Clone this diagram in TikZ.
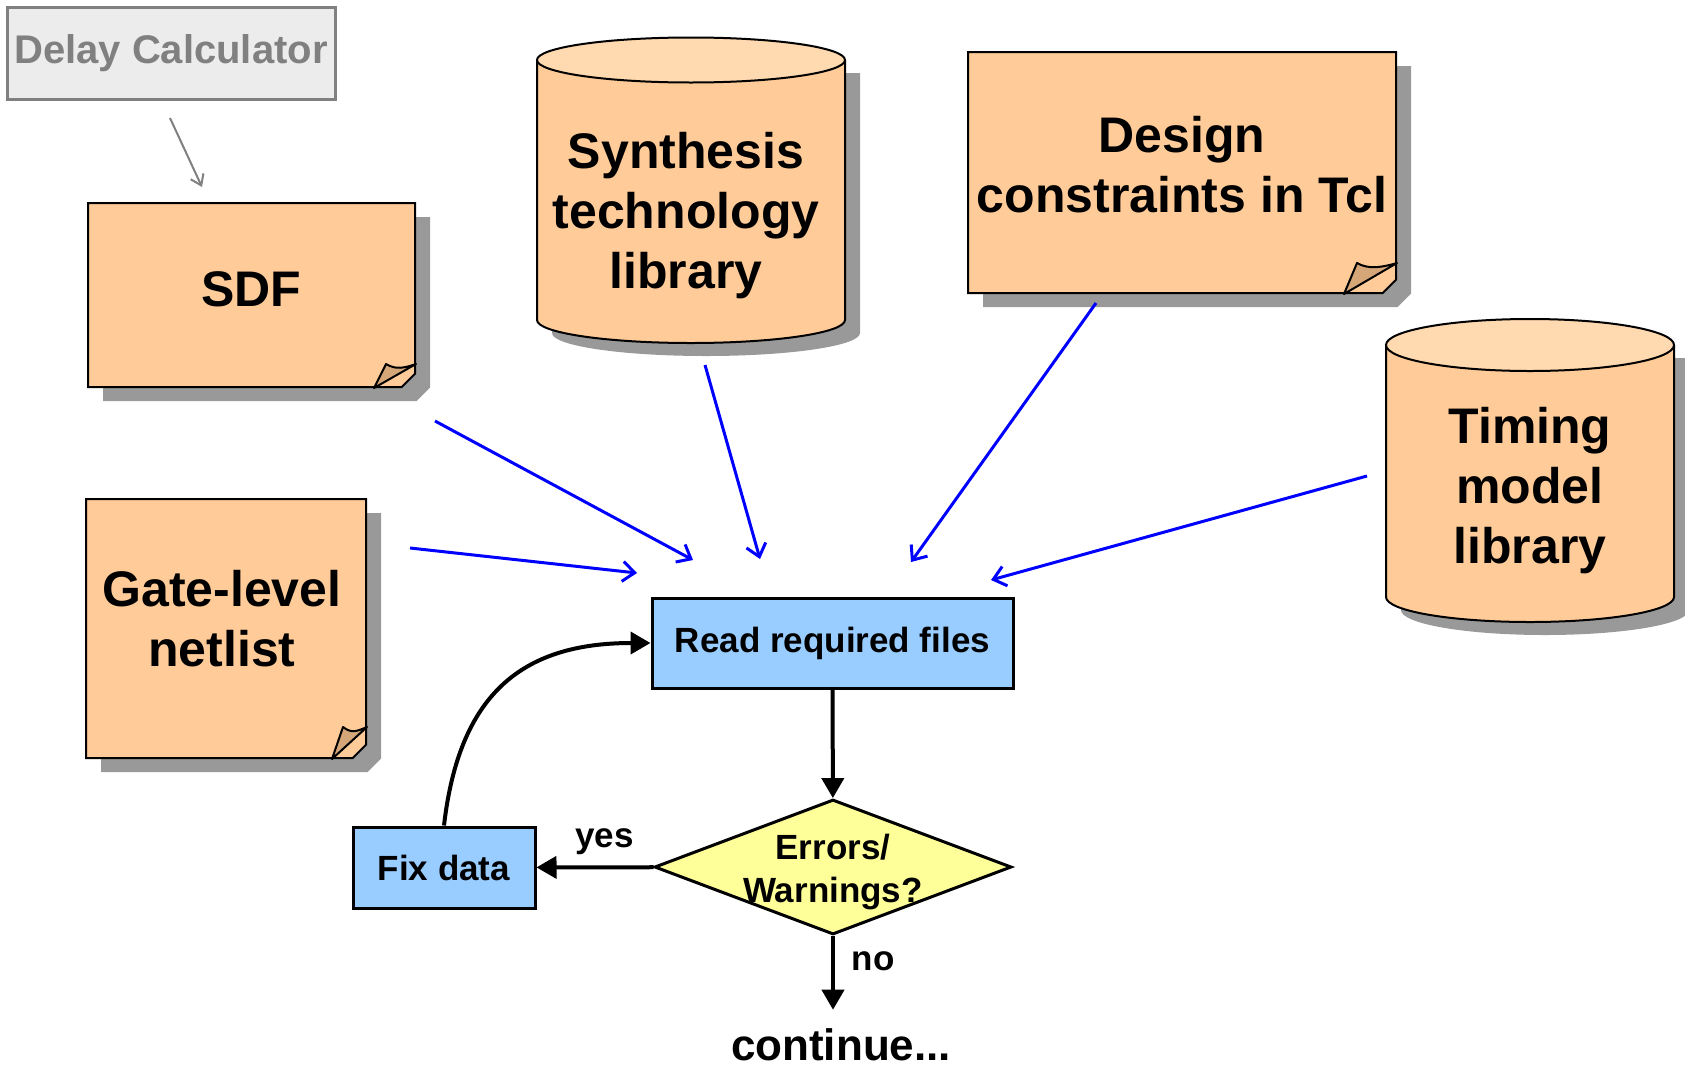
\documentclass[tikz,border=0pt]{standalone}
\usepackage{fontspec}
\setmainfont{Liberation Sans}
\usetikzlibrary{arrows.meta,shapes.geometric,shapes.misc,shadows,calc}

\definecolor{peach}{RGB}{255,204,153}
\definecolor{peachtop}{RGB}{255,217,175}
\definecolor{foldtan}{RGB}{212,166,120}
\definecolor{shadowgray}{RGB}{153,153,153}
\definecolor{flowblue}{RGB}{153,204,255}
\definecolor{decyellow}{RGB}{255,255,153}
\definecolor{delayfill}{RGB}{236,236,236}
\definecolor{delaygray}{RGB}{128,128,128}

\tikzset{
  bigtext/.style={font=\fontsize{25pt}{30pt}\selectfont\bfseries, align=center},
  flowtext/.style={font=\fontsize{17.5pt}{21.5pt}\selectfont\bfseries, align=center},
  dropgray/.style={drop shadow={shadow xshift=7.5pt, shadow yshift=-7pt, fill=shadowgray, opacity=1}},
  paper/.style={chamfered rectangle, chamfered rectangle corners=south east, draw, line width=1pt, fill=peach, dropgray},
  libbody/.style={draw, line width=1pt, fill=peach},
  libtop/.style={draw, line width=1pt, fill=peachtop},
  libshadow/.style={fill=shadowgray, shift={(15,13)}},
  fold/.style={draw, line width=1pt, fill=foldtan, line join=round},
  process/.style={rectangle, draw, line width=1.5pt, fill=flowblue, flowtext},
  decision/.style={diamond, draw, line width=1.5pt, fill=decyellow, inner sep=0pt},
  flow/.style={line width=2pt, -{Triangle[length=10pt,width=11pt]}},
  feed/.style={blue, line width=1.5pt, -{Straight Barb[length=6pt,width=10pt]}},
}

\begin{document}
\begin{tikzpicture}[x=0.5pt,y=-0.5pt]
  \useasboundingbox (0,0) rectangle (1685,1066);

  % delay calculator
  \node[rectangle, draw=delaygray, line width=1.5pt, fill=delayfill, text=delaygray,
        font=\fontsize{20pt}{24pt}\selectfont\bfseries,
        minimum width=164pt, minimum height=46pt] (delay) at (171,53) {Delay Calculator};

  % input files
  \node[paper, minimum width=163.5pt, minimum height=92pt,
        chamfered rectangle xsep=21pt, chamfered rectangle ysep=12pt,
        label={[bigtext, yshift=3pt]center:SDF}] (sdf) at (251.5,295) {};
  \node[paper, minimum width=140pt, minimum height=129.5pt,
        chamfered rectangle xsep=17.5pt, chamfered rectangle ysep=16pt,
        label={[bigtext, xshift=-2pt, yshift=5pt]center:Gate-level\\netlist}] (gate) at (226,628.5) {};
  \node[paper, minimum width=214pt, minimum height=120.5pt,
        chamfered rectangle xsep=26.5pt, chamfered rectangle ysep=15.5pt,
        label={[bigtext, yshift=4pt]center:Design\\constraints in Tcl}] (design) at (1182,172.5) {};

  % libraries
  \fill[libshadow] (537,60) -- (537,320) arc[start angle=180, end angle=360, x radius=77pt, y radius=11.5pt] -- (845,60) -- cycle;
  \draw[libbody] (537,60) -- (537,320) arc[start angle=180, end angle=360, x radius=77pt, y radius=11.5pt] -- (845,60);
  \draw[libtop] (691,60) ellipse [x radius=77pt, y radius=11.25pt];
  \node[bigtext] (synth) at (686,216) {Synthesis\\technology\\library};

  \fill[libshadow] (1386,345) -- (1386,597) arc[start angle=180, end angle=360, x radius=72pt, y radius=12.5pt] -- (1674,345) -- cycle;
  \draw[libbody] (1386,345) -- (1386,597) arc[start angle=180, end angle=360, x radius=72pt, y radius=12.5pt] -- (1674,345);
  \draw[libtop] (1530,345) ellipse [x radius=72pt, y radius=13pt];
  \node[bigtext] (timing) at (1530,490.5) {Timing\\model\\library};

  % folded corners
  \coordinate (sdfc) at (sdf.south -| sdf.east);
  \coordinate (gatec) at (gate.south -| gate.east);
  \coordinate (designc) at (design.south -| design.east);
  \draw[fold] ($(sdfc)+(-42,0)$) -- ++(12,-24) .. controls +(10,6) and +(-12,4) .. ($(sdfc)+(0,-24)$) -- cycle;
  \draw[fold] ($(gatec)+(-35,0)$) -- ++(11,-32) .. controls +(9,7) and +(-10,4) .. ($(gatec)+(0,-32)$) -- cycle;
  \draw[fold] ($(designc)+(-53,0)$) -- ++(13,-31) .. controls +(12,7) and +(-14,4) .. ($(designc)+(0,-31)$) -- cycle;

  % flow
  \node[process, minimum width=180.5pt, minimum height=45pt] (read) at (832.5,643) {Read required files};
  \node[decision, minimum width=178.5pt, minimum height=67.5pt,
        label={[flowtext, yshift=-2.5pt]center:Errors/\\Warnings?}] (err) at (833,867) {};
  \node[process, minimum width=91pt, minimum height=40.5pt] (fix) at (444,867.5) {Fix data};
  \node[font=\fontsize{22pt}{26pt}\selectfont\bfseries, inner sep=0pt, anchor=base] (cont) at (841,1060) {continue...};

  \draw[flow] (read) -- (err);
  \draw[flow] (err) -- node[flowtext, pos=0.42, above=2pt] {yes} (fix);
  \draw[flow, shorten >=9pt] (err) -- node[flowtext, pos=0.27, right=5pt] {no} (err |- cont.north);
  \draw[flow] (fix.north) .. controls +(15,-130) and +(-130,0) .. (read.west);

  % feeding arrows
  \coordinate (dco) at (170,118);  \coordinate (dci) at (202,187);
  \coordinate (sdfo) at (435,421); \coordinate (sdfi) at (693,560);
  \coordinate (gateo) at (410,548); \coordinate (gatei) at (637,573);
  \coordinate (syno) at (705,365); \coordinate (syni) at (760,559);
  \coordinate (deso) at (1096,303); \coordinate (desi) at (911,562);
  \coordinate (timo) at (1367,476); \coordinate (timi) at (991,580);
  \draw[delaygray, line width=1pt, -{Straight Barb[length=5pt,width=7pt]}] (dco) -- (dci);
  \draw[feed] (sdfo) -- (sdfi);
  \draw[feed] (gateo) -- (gatei);
  \draw[feed] (syno) -- (syni);
  \draw[feed] (deso) -- (desi);
  \draw[feed] (timo) -- (timi);
\end{tikzpicture}
\end{document}
